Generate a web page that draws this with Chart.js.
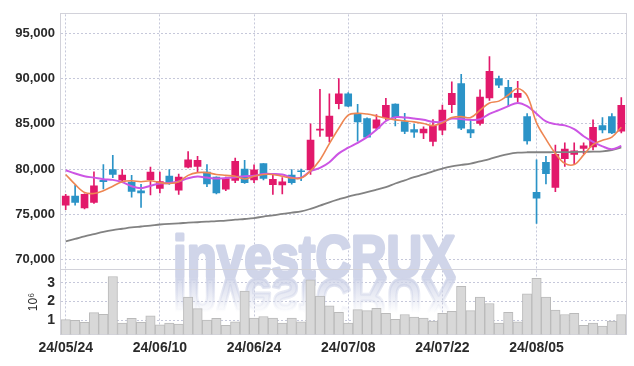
<!DOCTYPE html>
<html><head><meta charset="utf-8">
<script src="https://cdn.jsdelivr.net/npm/chart.js@4.4.1/dist/chart.umd.min.js"></script>
<style>html,body{margin:0;padding:0;background:#fff;}#wrap{width:634px;height:366px;position:relative;}</style>
</head><body><div id="wrap"><canvas id="c"></canvas></div>
<script>
const categories = ['24/05/24','24/05/27','24/05/28','24/05/29','24/05/30','24/05/31','24/06/03','24/06/04','24/06/05','24/06/07',
  '24/06/10','24/06/11','24/06/12','24/06/13','24/06/14','24/06/17','24/06/18','24/06/19','24/06/20','24/06/21',
  '24/06/24','24/06/25','24/06/26','24/06/27','24/06/28','24/07/01','24/07/02','24/07/03','24/07/04','24/07/05',
  '24/07/08','24/07/09','24/07/10','24/07/11','24/07/12','24/07/15','24/07/16','24/07/17','24/07/18','24/07/19',
  '24/07/22','24/07/23','24/07/24','24/07/25','24/07/26','24/07/29','24/07/30','24/07/31','24/08/01','24/08/02',
  '24/08/05','24/08/06','24/08/07','24/08/08','24/08/09','24/08/12','24/08/13','24/08/14','24/08/16','24/08/19'];
const tickLabels = ['24/05/24','24/06/10','24/06/24','24/07/08','24/07/22','24/08/05'];

const openPrices = [76000,77000,75700,76300,78750,79950,78770,78550,77600,78830,
  77870,79230,77650,80200,80300,79660,79100,77760,78750,80000,
  78800,80600,78260,78230,79330,79800,79900,84300,83600,87220,
  88300,86030,85570,84500,85680,87180,85250,84350,84000,83050,
  84300,87110,89440,84360,85050,87850,89980,89010,87900,85790,
  77430,80730,77970,81130,81600,82270,82450,84790,85790,84180];
const highPrices = [77200,78200,77250,79700,80500,81500,79950,79300,78300,80200,
  79650,79950,79450,81920,81400,80500,79150,79120,81200,80950,
  80450,80600,79400,79050,79950,80000,85000,88800,88300,90000,
  88450,87150,85650,86000,87800,87200,86150,84950,84650,85450,
  87050,89620,90450,85500,88750,92420,90270,89800,89690,86110,
  81020,81400,82640,82880,82880,82880,85430,85680,86110,87900];
const lowPrices = [75500,76000,75600,76200,77800,79050,78500,76900,75750,77150,
  77350,78300,77200,80120,79600,78050,77250,77600,78500,78400,
  78500,78800,77200,77260,78330,78700,79400,83600,83000,86650,
  86900,83070,83450,84350,85430,84750,83900,83500,83350,82560,
  83800,86220,84350,83450,84850,87580,88980,86900,87450,82740,
  74000,78340,77510,80300,80500,81700,82100,84000,83900,84000];
const closePrices = [77000,76300,77200,78150,78600,79400,79330,77520,77350,79650,
  78600,78430,79100,81020,80950,78340,77350,78940,80840,78500,
  79900,78950,78870,78580,78500,79700,83200,84400,85850,88300,
  86950,85200,83530,85430,87040,85680,84150,84070,84400,84780,
  86500,88370,84500,84000,87940,90800,89260,87900,88370,83100,
  76790,79480,81630,82200,82000,82560,84600,84320,84000,87040];

const maShort = [79400,78300,77400,77300,77600,78100,78600,78700,78600,78700,
  78500,78400,78600,79300,79600,79600,79400,79300,79200,78900,
  79200,79400,79400,79200,79000,79000,79800,81000,82800,84500,
  85950,86150,86070,85860,85600,85430,85320,85210,85030,84790,
  85100,85680,85790,85680,86500,87300,87500,88180,88900,88100,
  85100,83300,81730,80620,80490,81560,82700,83170,83530,84610];
const maMid = [79870,79500,79200,79050,78870,78800,78550,78100,77880,78150,
  78400,78450,78620,78980,79160,79050,78950,79000,79100,79200,
  79250,79450,79450,79400,79050,79050,79770,80120,80750,81730,
  82350,82900,83530,84330,85300,85730,85680,85570,85430,85210,
  85210,85570,85520,85430,85500,86100,86500,86950,87300,86940,
  86100,85250,84960,84820,84400,83620,83000,82500,82180,82550];
const maLong = [72000,72270,72550,72800,73050,73250,73400,73550,73650,73750,
  73870,73950,74000,74080,74120,74180,74250,74300,74400,74480,
  74580,74750,74880,75040,75180,75320,75600,75950,76320,76650,
  76960,77200,77450,77720,78000,78400,78750,79100,79400,79750,
  80050,80300,80450,80600,80850,81100,81400,81650,81800,81850,
  81850,81850,81860,81870,81880,81900,81920,81950,82100,82400];

const volumeMillions = [1.02,0.98,0.88,1.40,1.31,3.34,0.84,1.09,0.88,1.22,
  0.74,0.84,0.78,2.23,1.61,1.00,1.09,0.72,0.90,2.55,
  1.10,1.19,1.10,0.84,1.10,0.90,3.16,2.29,1.77,1.42,
  0.84,1.56,1.51,1.63,1.36,1.04,1.30,1.16,1.10,0.95,
  1.36,1.47,2.81,1.51,2.23,1.89,0.84,1.42,0.90,2.41,
  3.24,2.23,1.54,1.30,1.36,0.72,0.84,0.67,0.95,1.30];

const priceTicks = [70000,75000,80000,85000,90000,95000];
const volumeTicks = [1,2,3];

const UP = '#E2196B', DOWN = '#2B93C7';
const candleColors = categories.map((_, i) => closePrices[i] >= openPrices[i] ? UP : DOWN);
const FONT = '"Liberation Sans", Arial, sans-serif';
const GRID = '#C6C8DA';
const TEXT = '#2a2a2a';

const decor = {
  id: 'decor',
  beforeDatasetsDraw(chart) {
    const {ctx, chartArea: a} = chart;
    ctx.save();
    ctx.beginPath(); ctx.rect(a.left, a.top, a.width, a.height); ctx.clip();
    ctx.font = 'bold 60px ' + FONT;
    ctx.textBaseline = 'alphabetic';
    ctx.lineJoin = 'round';
    const x = 173, base = 277, targetW = 282;
    const sx = targetW / ctx.measureText('investCRUX').width;
    // reflection
    ctx.save();
    ctx.translate(x, base + 2);
    ctx.scale(sx, -1);
    const g = ctx.createLinearGradient(0, 0, 0, -34);
    g.addColorStop(0, 'rgba(205,210,231,0.8)');
    g.addColorStop(1, 'rgba(205,210,231,0)');
    ctx.fillStyle = g; ctx.strokeStyle = g; ctx.lineWidth = 3;
    ctx.strokeText('investCRUX', 0, 0);
    ctx.fillText('investCRUX', 0, 0);
    ctx.restore();
    // main
    ctx.save();
    ctx.translate(x, base);
    ctx.scale(sx, 1);
    ctx.fillStyle = '#D0D5E9'; ctx.strokeStyle = '#D0D5E9'; ctx.lineWidth = 3;
    ctx.strokeText('investCRUX', 0, 0);
    ctx.fillText('investCRUX', 0, 0);
    ctx.restore();
    ctx.restore();
    // frame
    ctx.save();
    ctx.strokeStyle = '#D2D2DA';
    ctx.lineWidth = 1;
    ctx.strokeRect(Math.round(a.left) - 0.5, Math.round(a.top) - 0.5, Math.round(a.width) + 1, Math.round(a.height) + 1);
    const yv = chart.scales.yv;
    ctx.beginPath();
    ctx.moveTo(a.left, Math.round(yv.top) - 0.5);
    ctx.lineTo(a.right, Math.round(yv.top) - 0.5);
    ctx.stroke();
    ctx.restore();
  }
};

new Chart(document.getElementById('c'), {
  type: 'bar',
  data: {
    labels: categories,
    datasets: [
      { type: 'line', label: 'MA5', data: maShort, yAxisID: 'y', borderColor: '#EE8652', borderWidth: 1.6, pointRadius: 0, tension: 0.35, order: 0 },
      { type: 'line', label: 'MA20', data: maMid, yAxisID: 'y', borderColor: '#CC55E4', borderWidth: 2, pointRadius: 0, tension: 0.35, order: 0 },
      { type: 'line', label: 'MA60', data: maLong, yAxisID: 'y', borderColor: '#828282', borderWidth: 1.8, pointRadius: 0, tension: 0.35, order: 0 },
      { type: 'bar', label: 'body', data: categories.map((_, i) => [openPrices[i], closePrices[i]]), yAxisID: 'y',
        backgroundColor: candleColors, barThickness: 7, grouped: false, borderSkipped: false, order: 1 },
      { type: 'bar', label: 'wick', data: categories.map((_, i) => [lowPrices[i], highPrices[i]]), yAxisID: 'y',
        backgroundColor: candleColors, barThickness: 1, grouped: false, order: 2 },
      { type: 'bar', label: 'volume', data: volumeMillions, yAxisID: 'yv',
        backgroundColor: '#D8D8D8', borderColor: '#BABABA', borderWidth: 1, barPercentage: 1, categoryPercentage: 1, grouped: false, order: 3 }
    ]
  },
  options: {
    responsive: true, maintainAspectRatio: false, animation: false,
    layout: { padding: { top: 9, right: 8, left: 0, bottom: 3 } },
    plugins: { legend: { display: false }, tooltip: { enabled: false } },
    scales: {
      x: {
        offset: true,
        grid: { color: c => tickLabels.includes(categories[c.index]) ? GRID : 'transparent', drawTicks: false, offset: false },
        border: { display: false, dash: [2, 2] },
        ticks: { autoSkip: false, maxRotation: 0, padding: 6, color: TEXT, font: { family: FONT, size: 14, weight: 'bold' },
          callback: (v, i) => tickLabels.includes(categories[i]) ? categories[i] : '' }
      },
      yv: {
        type: 'linear', position: 'left', stack: 'panes', stackWeight: 66, weight: 0,
        min: 0.24, max: 3.69,
        afterBuildTicks: s => { s.ticks = volumeTicks.map(v => ({ value: v })); },
        afterFit: s => { s.width = 61; },
        grid: { color: GRID, drawTicks: false },
        border: { display: false, dash: [2, 2] },
        title: { display: true, text: '10⁶', color: TEXT, font: { family: FONT, size: 12 }, padding: { top: 26, bottom: 0 } },
        ticks: { autoSkip: false, padding: 6, color: TEXT, font: { family: FONT, size: 14, weight: 'bold' }, callback: v => String(v) }
      },
      y: {
        type: 'linear', position: 'left', stack: 'panes', stackWeight: 262.5, weight: 1,
        min: 68850, max: 97080,
        afterBuildTicks: s => { s.ticks = priceTicks.map(v => ({ value: v })); },
        afterFit: s => { s.width = 61; },
        grid: { color: GRID, drawTicks: false },
        border: { display: false, dash: [2, 2] },
        ticks: { autoSkip: false, padding: 6, color: TEXT, font: { family: FONT, size: 13, weight: 'bold' }, callback: v => v.toLocaleString('en-US') }
      }
    }
  },
  plugins: [decor]
});
</script></body></html>
